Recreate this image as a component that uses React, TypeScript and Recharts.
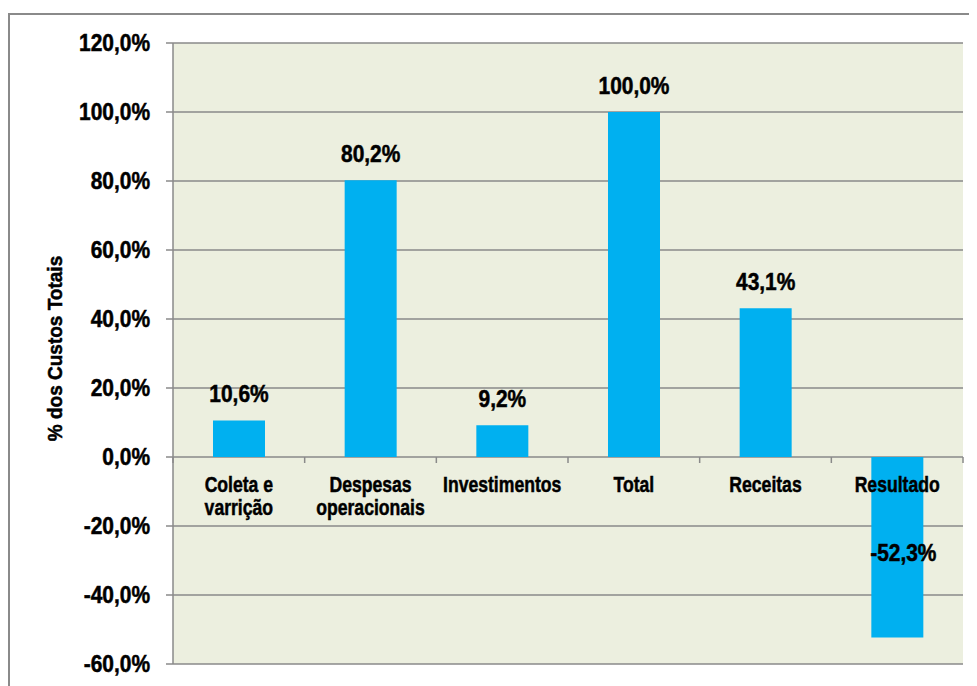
import React from 'react';
import { BarChart, Bar, XAxis, YAxis, CartesianGrid, LabelList } from 'recharts';

const categories = ['Coleta e\nvarrição', 'Despesas\noperacionais', 'Investimentos', 'Total', 'Receitas', 'Resultado'];
const shares = [10.6, 80.2, 9.2, 100.0, 43.1, -52.3];
const yTicks = [-60, -40, -20, 0, 20, 40, 60, 80, 100, 120];

const data = categories.map((name, i) => ({ name, value: shares[i] }));

const W = 969;
const H = 678;
const TOP = 35;
const BOTTOM = 21;
const LEFT_AXIS = 165;
const RIGHT = 14;
const Y_MIN = -60;
const Y_MAX = 120;
const FONT = '"Liberation Sans", Arial, sans-serif';
const GRAY = '#8a8a8a';

const plotH = H - TOP - BOTTOM - 1;
const plotW = W - LEFT_AXIS - RIGHT;
const zeroY = TOP + (plotH * Y_MAX) / (Y_MAX - Y_MIN);
const band = plotW / categories.length;

const fmt = (v: number) => `${v.toFixed(1).replace('.', ',')}%`;

// condensed look: bold Liberation Sans squeezed horizontally, slightly heavier
const Squeezed = ({ x, y, sx, size, anchor = 'middle', children }: any) => (
  <g transform={`translate(${x} ${y}) scale(${sx} 1)`}>
    <text x={0} y={0} textAnchor={anchor} fontFamily={FONT} fontWeight="bold" fontSize={size} fill="#000" stroke="#000" strokeWidth={0.5}>
      {children}
    </text>
  </g>
);

const CategoryTick = (props: any) => {
  const { x, payload, index } = props;
  const lines = String(payload.value).split('\n');
  return (
    <g>
      <line x1={x - band / 2} x2={x - band / 2} y1={zeroY} y2={zeroY + 6} stroke={GRAY} strokeWidth={1.5} />
      {index === categories.length - 1 && (
        <line x1={x + band / 2} x2={x + band / 2} y1={zeroY} y2={zeroY + 6} stroke={GRAY} strokeWidth={1.5} />
      )}
      {lines.map((l, i) => (
        <Squeezed key={i} x={x} y={zeroY + 35 + i * 23} sx={0.8} size={22}>{l}</Squeezed>
      ))}
    </g>
  );
};

const ValueTick = (props: any) => {
  const { x, y, payload } = props;
  return (
    <Squeezed x={x} y={y + 8} sx={0.91} size={23} anchor="end">{fmt(payload.value)}</Squeezed>
  );
};

const ValueLabel = (props: any) => {
  const { x, y, width, height, value } = props;
  const top = Math.min(y, y + height);
  const h = Math.abs(height);
  const cx = x + width / 2;
  if (value < 0) {
    return <Squeezed x={cx + 6} y={top + h / 2 + 14} sx={0.91} size={23}>{fmt(value)}</Squeezed>;
  }
  return <Squeezed x={cx} y={top - 18} sx={0.91} size={23}>{fmt(value)}</Squeezed>;
};

const YTitle = (props: any) => {
  const vb = props.viewBox || {};
  const cx = (vb.x || 0) + 47;
  const cy = (vb.y || TOP) + (vb.height || plotH) / 2 - 5;
  return (
    <g transform={`translate(${cx} ${cy}) rotate(-90) scale(0.95 1)`}>
      <text x={0} y={7} textAnchor="middle" fontFamily={FONT} fontWeight="bold" fontSize={20} fill="#000" stroke="#000" strokeWidth={0.5}>
        % dos Custos Totais
      </text>
    </g>
  );
};

export default function App() {
  return (
    <div style={{ position: 'relative', width: W, height: H, overflow: 'hidden', background: '#fff', fontFamily: FONT }}>
      <div style={{ position: 'absolute', left: 0, top: 5, width: 2000, height: 2000, border: `2px solid ${GRAY}`, boxSizing: 'border-box' }} />
      <div style={{ position: 'absolute', left: 0, top: 0 }}>
        <BarChart width={W} height={H} data={data} margin={{ top: TOP, right: RIGHT, bottom: BOTTOM, left: 0 }}>
          <CartesianGrid vertical={false} stroke={GRAY} strokeWidth={1.5} fill="#ECEFDF" fillOpacity={1} />
          <XAxis dataKey="name" height={1} axisLine={false} tickLine={false} tick={<CategoryTick />} interval={0} />
          <YAxis
            width={LEFT_AXIS}
            domain={[Y_MIN, Y_MAX]}
            ticks={yTicks}
            tickSize={7}
            tickMargin={16}
            axisLine={{ stroke: GRAY, strokeWidth: 1.5 }}
            tickLine={{ stroke: GRAY, strokeWidth: 1.5 }}
            tick={<ValueTick />}
            label={<YTitle />}
            interval={0}
          />
          <Bar dataKey="value" fill="#00B0F0" barSize={52} isAnimationActive={false}>
            <LabelList dataKey="value" content={<ValueLabel />} />
          </Bar>
        </BarChart>
      </div>
    </div>
  );
}
